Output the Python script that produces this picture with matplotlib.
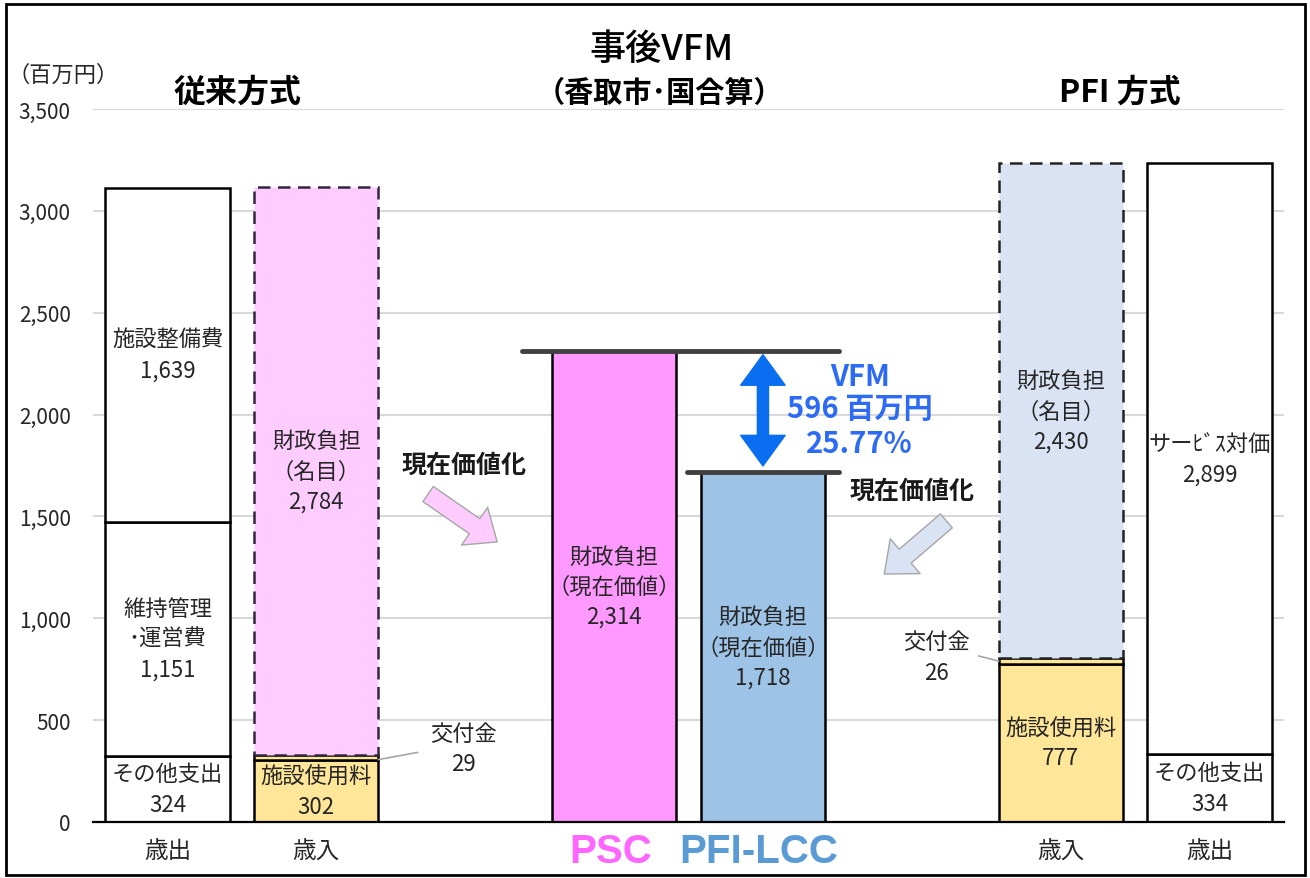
import matplotlib.pyplot as plt
import matplotlib.patches as mpatches
import numpy as np

plt.rcParams['font.family'] = ['Noto Sans CJK JP', 'DejaVu Sans']

# DATA (百万円)
conv_out_labels = ['その他支出', '維持管理\n･運営費', '施設整備費']
conv_out = [324, 1151, 1639]
conv_in_labels = ['施設使用料', '交付金', '財政負担\n（名目）']
conv_in = [302, 29, 2784]
psc_label = '財政負担\n（現在価値）'
psc = 2314
lcc_label = '財政負担\n（現在価値）'
pfi_lcc = 1718
pfi_in_labels = ['施設使用料', '交付金', '財政負担\n（名目）']
pfi_in = [777, 26, 2430]
pfi_out_labels = ['その他支出', 'サーﾋﾞｽ対価']
pfi_out = [334, 2899]
vfm_amount = 596
vfm_pct = 25.77
x_labels = ['歳出', '歳入', 'PSC', 'PFI-LCC', '歳入', '歳出']

# LAYOUT
W, H = 1310, 879
xpos = [0, 1, 3, 4, 6, 7]
bw = 0.835
yellow = '#FFE699'
pink_light = '#FFCCFF'
pink = '#FF99FF'
blue = '#9DC3E6'
blue_light = '#DAE3F3'
txt = '#262626'
fs = 16

fig = plt.figure(figsize=(W / 100, H / 100), dpi=100)
ax = fig.add_axes([93 / W, 56 / H, (1284 - 93) / W, 713 / H])
ax.set_xlim(-0.5, 7.5)
ax.set_ylim(0, 3500)
ax.set_yticks(np.arange(0, 3501, 500))
ax.set_yticklabels([f'{v:,}' for v in range(0, 3501, 500)], fontsize=15, color=txt)
ax.tick_params(axis='y', length=0, pad=16)
ax.set_xticks([])
ax.grid(axis='y', color='#D9D9D9', lw=1.5, zorder=0)
ax.set_axisbelow(True)
for s in ['left', 'right', 'top']:
    ax.spines[s].set_visible(False)
ax.spines['bottom'].set_linewidth(1.6)
ax.spines['bottom'].set_zorder(5)


def seg(x, bottom, h, fc, ls='-', ec='black', label=None, value=None):
    ax.bar(x, h, bw, bottom=bottom, color=fc, edgecolor=ec, linewidth=1.8,
           linestyle=ls, zorder=3)
    if label is not None:
        ax.text(x, bottom + h / 2, f'{label}\n{value:,}', ha='center', va='center',
                fontsize=fs, color=txt, linespacing=1.4, zorder=4)


# 従来方式 歳出
b = 0
for lab, v in zip(conv_out_labels, conv_out):
    seg(xpos[0], b, v, 'white', label=lab, value=v)
    b += v

# 従来方式 歳入
seg(xpos[1], 0, conv_in[0], yellow, label=conv_in_labels[0], value=conv_in[0])
seg(xpos[1], conv_in[0], conv_in[1], yellow)
seg(xpos[1], conv_in[0] + conv_in[1], conv_in[2], pink_light, ls=(0, (5, 3)),
    ec='#33263F', label=conv_in_labels[2], value=conv_in[2])

# PSC / PFI-LCC
seg(xpos[2], 0, psc, pink, label=psc_label, value=psc)
seg(xpos[3], 0, pfi_lcc, blue, label=lcc_label, value=pfi_lcc)

# PFI 歳入
seg(xpos[4], 0, pfi_in[0], yellow, label=pfi_in_labels[0], value=pfi_in[0])
seg(xpos[4], pfi_in[0], pfi_in[1], yellow)
seg(xpos[4], pfi_in[0] + pfi_in[1], pfi_in[2], blue_light, ls=(0, (5, 3)),
    ec='#222222', label=pfi_in_labels[2], value=pfi_in[2])

# PFI 歳出
b = 0
for lab, v in zip(pfi_out_labels, pfi_out):
    seg(xpos[5], b, v, 'white', label=lab, value=v)
    b += v

# 交付金 callouts
y_k1 = conv_in[0] + conv_in[1] / 2
ax.plot([xpos[1] + bw / 2, 1.68], [y_k1 - 10, y_k1 + 25], color='#A6A6A6', lw=1.2, zorder=4)
ax.text(1.99, 360, f'{conv_in_labels[1]}\n{conv_in[1]}', ha='center', va='center',
        fontsize=fs, color=txt, linespacing=1.4)
y_k2 = pfi_in[0] + pfi_in[1] / 2
ax.plot([xpos[4] - bw / 2, 5.45], [y_k2, y_k2 + 25], color='#A6A6A6', lw=1.2, zorder=4)
ax.text(5.165, 810, f'{pfi_in_labels[1]}\n{pfi_in[1]}', ha='center', va='center',
        fontsize=fs, color=txt, linespacing=1.4)

# VFM reference lines and arrow
ax.plot([2.38, 4.51], [psc, psc], color='#404040', lw=3.5, zorder=5, solid_capstyle='round')
ax.plot([3.49, 4.51], [pfi_lcc, pfi_lcc], color='#404040', lw=3.5, zorder=5, solid_capstyle='round')
mid = (psc + pfi_lcc) / 2
for yend in [psc - 20, pfi_lcc + 30]:
    ax.annotate('', xy=(4.0, yend), xytext=(4.0, mid),
                arrowprops=dict(arrowstyle='simple,head_length=1.1,head_width=1.6,tail_width=0.4',
                                fc='#0A6EF0', ec='#0A6EF0', shrinkA=0, shrinkB=0,
                                mutation_scale=20), zorder=6)
vfm_col = '#2E6BF5'
ax.text(4.65, 2190, 'VFM', ha='center', va='center', fontsize=21, fontweight='bold', color=vfm_col)
ax.text(4.65, 2030, f'{vfm_amount} 百万円', ha='center', va='center', fontsize=21,
        fontweight='bold', color=vfm_col)
ax.text(4.65, 1860, f'{vfm_pct:.2f}%', ha='center', va='center', fontsize=21,
        fontweight='bold', color=vfm_col)

# 現在価値化 arrows
ax.text(1.99, 1755, '現在価値化', ha='center', va='center', fontsize=18, fontweight='bold', color='#1A1A1A')
ax.annotate('', xy=(2.215, 1375), xytext=(1.751, 1610),
            arrowprops=dict(arrowstyle='simple,head_length=0.9,head_width=1.5,tail_width=0.6',
                            fc=pink_light, ec='#A6A6A6', lw=1, shrinkA=0, shrinkB=0,
                            mutation_scale=22), zorder=6)
ax.text(5.0, 1625, '現在価値化', ha='center', va='center', fontsize=18, fontweight='bold', color='#1A1A1A')
ax.annotate('', xy=(4.815, 1217), xytext=(5.232, 1478),
            arrowprops=dict(arrowstyle='simple,head_length=0.9,head_width=1.5,tail_width=0.6',
                            fc=blue_light, ec='#A6A6A6', lw=1, shrinkA=0, shrinkB=0,
                            mutation_scale=22), zorder=6)

# category labels under axis
ty = (823 - 852) / 713
lab_style = [(17, 'normal', txt, 0), (17, 'normal', txt, 0), (29, 'bold', '#FF66FF', -0.02),
             (29, 'bold', '#5B9BD5', -0.03), (17, 'normal', txt, 0), (17, 'normal', txt, 0)]
for x, lab, (size, wt, col, dx) in zip(xpos, x_labels, lab_style):
    fam = ['Liberation Sans', 'DejaVu Sans'] if wt == 'bold' else ['Noto Sans CJK JP', 'DejaVu Sans']
    ax.text(x + dx, ty, lab, transform=ax.get_xaxis_transform(), ha='center', va='center',
            fontsize=size, fontweight=wt, color=col, family=fam)

# headings
fig.text(63 / W, 1 - 75 / H, '（百万円）', ha='center', va='center', fontsize=16, color=txt)
fig.text(237 / W, 1 - 93 / H, '従来方式', ha='center', va='center', fontsize=23, fontweight='bold')
fig.text(662 / W, 1 - 50 / H, '事後VFM', ha='center', va='center', fontsize=26, fontweight='medium')
fig.text(659 / W, 1 - 93 / H, '（香取市･国合算）', ha='center', va='center', fontsize=21, fontweight='bold')
fig.text(1120 / W, 1 - 93 / H, 'PFI 方式', ha='center', va='center', fontsize=23, fontweight='bold')

# outer frame
fig.patches.append(mpatches.Rectangle((6 / W, 3 / H), 1299 / W, 871 / H, transform=fig.transFigure,
                                      fill=False, ec='black', lw=2))

fig.savefig('out.png', dpi=100)
